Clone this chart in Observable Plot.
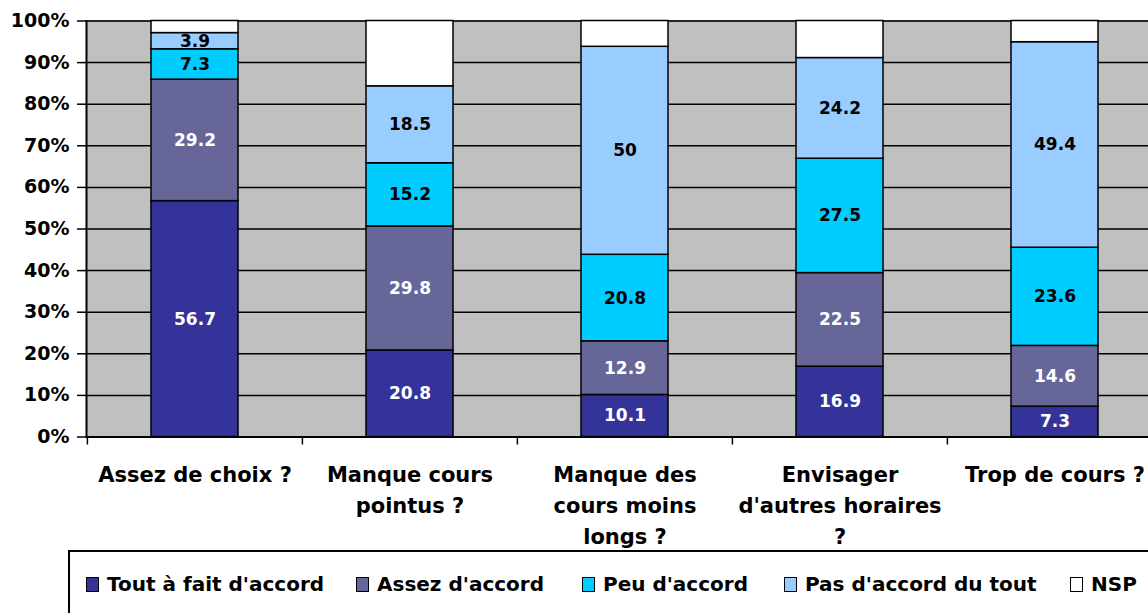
<!DOCTYPE html>
<html>
<head>
<meta charset="utf-8">
<script src="https://cdn.jsdelivr.net/npm/d3@7"></script>
<script src="https://cdn.jsdelivr.net/npm/@observablehq/plot@0.6"></script>
<style>
  html, body { margin: 0; padding: 0; overflow: hidden; background: #fff; width: 1148px; height: 613px; }
  #wrap { position: relative; width: 1148px; height: 613px; overflow: hidden; }
  #chart { position: absolute; left: 0; top: 0; width: 1164px; }
  #chart svg { max-width: none !important; }
  #legend { position: absolute; left: 68px; top: 550px; width: 1200px; height: 120px; border: 2px solid #000; box-sizing: border-box;
            font-family: "DejaVu Sans", sans-serif; font-weight: bold; font-size: 20px; color: #000; }
  .item { position: absolute; top: 20px; display: flex; align-items: center; white-space: nowrap; }
  .sw { width: 11px; height: 13px; border: 1.5px solid #000; margin-right: 8px; }
</style>
</head>
<body>
<div id="wrap">
  <div id="chart"></div>
  <div id="legend"></div>
</div>
<script>
const categories = ["Assez de choix ?", "Manque cours\npointus ?", "Manque des\ncours moins\nlongs ?", "Envisager\nd'autres horaires\n?", "Trop de cours ?"];
const seriesNames = ["Tout à fait d'accord", "Assez d'accord", "Peu d'accord", "Pas d'accord du tout", "NSP"];
const seriesColors = ["#333399", "#666699", "#00CCFF", "#99CCFF", "#FFFFFF"];
const toutAFait = [56.7, 20.8, 10.1, 16.9, 7.3];
const assez     = [29.2, 29.8, 12.9, 22.5, 14.6];
const peu       = [7.3, 15.2, 20.8, 27.5, 23.6];
const pasDuTout = [3.9, 18.5, 50, 24.2, 49.4];
const nsp       = [2.9, 15.7, 6.2, 8.9, 5.1];
const yTicks = [0, 10, 20, 30, 40, 50, 60, 70, 80, 90, 100];

const seriesValues = [toutAFait, assez, peu, pasDuTout, nsp];
const table = [];
categories.forEach((c, i) => {
  seriesNames.forEach((s, j) => {
    table.push({cat: c, series: s, value: seriesValues[j][i], labelled: j < 4, dark: j < 2});
  });
});

const W = 1164, ML = 86, MR = 2;
const step = (W - ML - MR) / categories.length;
const pad = 0.596;

const chart = Plot.plot({
  width: W,
  height: 550,
  marginLeft: ML,
  marginRight: MR,
  marginTop: 20.5,
  marginBottom: 113.5,
  style: {fontFamily: "DejaVu Sans, sans-serif", fontWeight: "bold", background: "transparent", overflow: "visible", maxWidth: "none"},
  x: {domain: categories, paddingInner: pad, paddingOuter: pad / 2, label: null},
  y: {domain: [0, 100], label: null},
  color: {domain: seriesNames, range: seriesColors},
  marks: [
    Plot.frame({fill: "#C0C0C0", stroke: null}),
    Plot.frame({anchor: "top", stroke: "#808080", strokeWidth: 1.5}),
    Plot.gridY(yTicks, {stroke: "#000", strokeOpacity: 1, strokeWidth: 1.5}),
    Plot.barY(table, {x: "cat", y: "value", fill: "series", stroke: "#000", strokeWidth: 1.5}),
    Plot.text(table, Plot.stackY({x: "cat", y: "value", text: d => (d.labelled && d.dark) ? String(d.value) : null,
      fill: "#fff", fontSize: 17, fontWeight: "bold"})),
    Plot.text(table, Plot.stackY({x: "cat", y: "value", text: d => (d.labelled && !d.dark) ? String(d.value) : null,
      fill: "#000", fontSize: 17, fontWeight: "bold"})),
    Plot.ruleY([0], {stroke: "#000", strokeWidth: 2}),
    Plot.frame({anchor: "left", stroke: "#000", strokeWidth: 2}),
    Plot.axisY(yTicks, {tickFormat: d => d + "%", tickSize: 9, tickPadding: 8, fontSize: 19, fontWeight: "bold", stroke: "#000", strokeWidth: 1.5, color: "#000", label: null}),
    Plot.axisX(categories, {tickSize: 8, tickFormat: () => "", dx: -step / 2, stroke: "#000", strokeWidth: 1.5, label: null}),
    Plot.text(categories, {x: d => d, text: d => d, frameAnchor: "bottom", lineAnchor: "top", dy: 23, lineHeight: 1.476,
      fontSize: 21, fontWeight: "bold", fill: "#000"})
  ]
});
document.getElementById("chart").appendChild(chart);

const legend = document.getElementById("legend");
const legendLeft = [16, 286, 512, 714, 1000];
seriesNames.forEach((s, j) => {
  const item = document.createElement("div");
  item.className = "item";
  item.style.left = legendLeft[j] + "px";
  const sw = document.createElement("span");
  sw.className = "sw";
  sw.style.background = seriesColors[j];
  const t = document.createElement("span");
  t.textContent = s;
  item.appendChild(sw);
  item.appendChild(t);
  legend.appendChild(item);
});
</script>
</body>
</html>
